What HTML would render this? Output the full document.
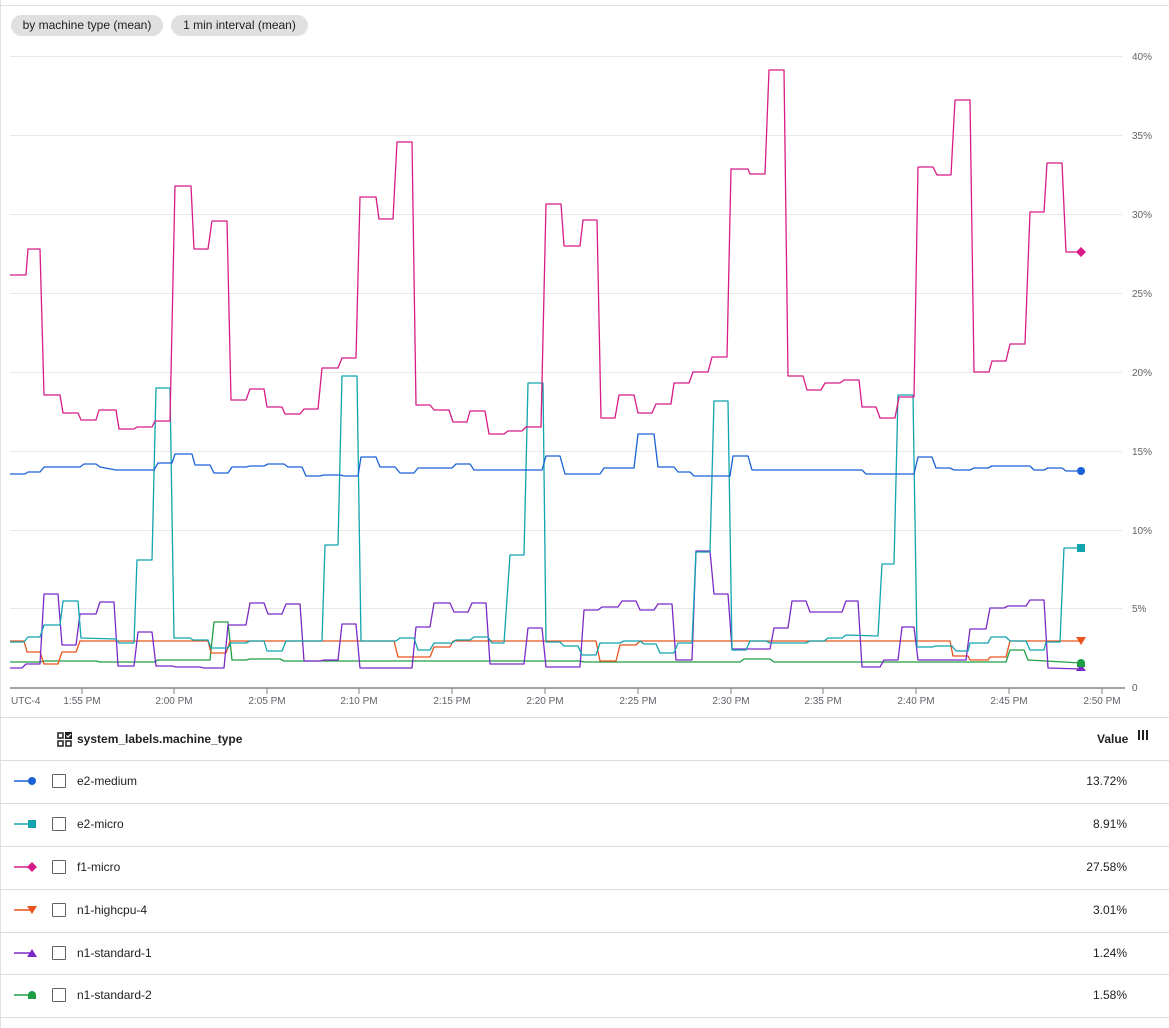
<!DOCTYPE html>
<html><head><meta charset="utf-8"><style>
body{margin:0;width:1169px;height:1028px;background:#fff;font-family:"Liberation Sans",Arial,sans-serif;position:relative;overflow:hidden;color:#202124}
.chip{position:absolute;top:15px;height:21px;line-height:21px;background:#e0e0e0;border-radius:11px;font-size:12px;color:#202124;text-align:center}
.row{position:absolute;left:0;width:1169px;height:42px;border-top:1px solid #dadce0;font-size:12px}
.row .nm{position:absolute;left:77px;top:13px}
.row .val{position:absolute;right:42px;top:13px}
.cb{position:absolute;left:52px;top:13px;width:12px;height:12px;border:1.5px solid #5f6368;border-radius:1px}
.ic{position:absolute;left:14px;top:10px}
</style></head><body>
<div style="position:absolute;left:0;top:5px;width:1169px;height:1px;background:#e0e0e0"></div>
<div style="position:absolute;left:0;top:0;width:1px;height:1028px;background:#e0e0e0"></div>
<div class="chip" style="left:11px;width:152px">by machine type (mean)</div>
<div class="chip" style="left:171px;width:137px">1 min interval (mean)</div>
<svg width="1169" height="718" style="position:absolute;left:0;top:0" font-family="Liberation Sans,Arial,sans-serif">
<g stroke="#e8e8e8" stroke-width="1">
<line x1="10" x2="1122" y1="56.5" y2="56.5"/><line x1="10" x2="1122" y1="135.5" y2="135.5"/><line x1="10" x2="1122" y1="214.5" y2="214.5"/><line x1="10" x2="1122" y1="293.5" y2="293.5"/><line x1="10" x2="1122" y1="372.5" y2="372.5"/><line x1="10" x2="1122" y1="451.5" y2="451.5"/><line x1="10" x2="1122" y1="530.5" y2="530.5"/><line x1="10" x2="1122" y1="608.5" y2="608.5"/>
</g>
<line x1="10" x2="1125" y1="688" y2="688" stroke="#80868b" stroke-width="1.5"/>
<g stroke="#80868b"><line x1="82" x2="82" y1="688" y2="694"/><line x1="174" x2="174" y1="688" y2="694"/><line x1="267" x2="267" y1="688" y2="694"/><line x1="359" x2="359" y1="688" y2="694"/><line x1="452" x2="452" y1="688" y2="694"/><line x1="545" x2="545" y1="688" y2="694"/><line x1="638" x2="638" y1="688" y2="694"/><line x1="731" x2="731" y1="688" y2="694"/><line x1="823" x2="823" y1="688" y2="694"/><line x1="916" x2="916" y1="688" y2="694"/><line x1="1009" x2="1009" y1="688" y2="694"/><line x1="1102" x2="1102" y1="688" y2="694"/></g>
<g font-size="10" fill="#5f6368">
<text x="1132" y="60">40%</text><text x="1132" y="139">35%</text><text x="1132" y="218">30%</text><text x="1132" y="297">25%</text><text x="1132" y="376">20%</text><text x="1132" y="455">15%</text><text x="1132" y="534">10%</text><text x="1132" y="612">5%</text><text x="1132" y="691">0</text>
<text x="11" y="704">UTC-4</text>
<g text-anchor="middle"><text x="82" y="704">1:55 PM</text><text x="174" y="704">2:00 PM</text><text x="267" y="704">2:05 PM</text><text x="359" y="704">2:10 PM</text><text x="452" y="704">2:15 PM</text><text x="545" y="704">2:20 PM</text><text x="638" y="704">2:25 PM</text><text x="731" y="704">2:30 PM</text><text x="823" y="704">2:35 PM</text><text x="916" y="704">2:40 PM</text><text x="1009" y="704">2:45 PM</text><text x="1102" y="704">2:50 PM</text></g>
</g>
<g fill="none" stroke-width="1.3" stroke-linejoin="round">
<polyline stroke="#1e9e45" points="10,662 40,662 44,661 96,661 100,662 154,662 158,660 210,660 214,622 228,622 232,660 246,660 250,659 280,659 284,661 580,661 584,662 740,662 744,659 770,659 774,662 1006,662 1010,650 1024,650 1028,660 1081,663"/>
<polyline stroke="#e8541e" points="10,641 24,641 27,652 40,652 44,664 58,664 62,652 76,652 80,641 208,641 211,653 226,653 230,641 394,641 398,657 430,657 434,647 450,647 453,641 596,641 600,661 616,661 620,645 636,645 640,641 950,641 953,656 968,656 970,660 988,660 990,657 1006,657 1010,641 1081,641"/>
<polyline stroke="#7b2ac9" points="10,668 22,668 26,664 40,664 44,594 58,594 62,645 76,645 80,614 96,614 100,602 114,602 118,666 134,666 138,632 152,632 156,666 172,666 176,667 200,667 204,668 224,668 228,625 246,625 250,603 264,603 268,614 282,614 286,604 300,604 304,661 320,661 324,660 338,660 342,624 356,624 360,668 412,668 416,627 430,627 434,603 450,603 454,612 468,612 472,603 486,603 490,664 524,664 528,628 542,628 546,667 580,667 584,610 598,610 602,607 618,607 622,601 636,601 640,610 654,610 658,604 672,604 676,660 692,660 696,551 710,551 714,594 728,594 732,649 770,649 774,628 788,628 792,601 806,601 810,612 842,612 846,601 858,601 862,667 880,667 884,660 898,660 902,627 914,627 918,660 966,660 970,629 986,629 990,608 1004,608 1008,606 1026,606 1030,600 1044,600 1048,668 1081,669"/>
<polyline stroke="#12a4af" points="10,642 24,642 28,637 40,637 44,625 60,625 63,601 78,601 81,638 116,639 119,643 134,643 137,560 152,560 156,388 170,388 174,638 190,638 193,640 208,640 211,648 228,648 231,643 246,643 250,641 264,641 267,651 282,651 286,641 322,641 325,545 338,545 342,376 357,376 361,641 396,641 400,638 414,638 418,650 430,650 434,643 452,643 456,640 470,640 474,637 488,637 492,643 504,643 510,555 524,555 528,383 543,383 546,642 560,642 564,646 578,646 582,655 596,655 600,643 620,643 624,641 640,641 644,644 656,644 660,653 674,653 678,643 692,643 696,552 710,552 714,401 728,401 732,650 746,650 750,641 766,641 770,643 806,643 810,641 824,641 828,638 842,638 846,635 878,636 882,564 894,564 898,395 913,395 917,647 932,647 936,646 952,646 956,651 968,651 970,643 988,643 991,637 1006,637 1010,641 1026,641 1030,650 1044,650 1046,642 1060,642 1064,548 1081,548"/>
<polyline stroke="#1a62d8" points="10,474 25,474 28,472 40,472 44,467 80,467 84,464 96,464 100,467 116,470 154,470 158,463 172,463 175,454 192,454 195,465 210,465 214,473 228,473 232,467 246,467 250,466 264,466 268,464 284,464 288,467 302,467 306,476 320,476 324,475 340,475 344,476 358,476 361,457 376,457 380,467 395,467 400,473 414,473 418,468 452,468 456,464 470,464 474,470 542,470 546,456 560,456 565,474 600,474 604,468 634,468 638,434 654,434 658,467 674,467 678,472 690,472 694,476 730,476 733,456 748,456 752,470 862,470 866,474 914,474 918,457 932,457 936,468 950,468 954,470 970,470 974,468 988,468 992,466 1030,466 1034,470 1044,470 1048,468 1062,468 1066,471 1081,471"/>
<polyline stroke="#d81b86" points="10,275 26,275 28,249 40,249 44,395 60,395 63,413 78,413 81,420 96,420 99,410 116,410 119,429 134,429 137,427 152,427 155,421 170,421 175,186 191,186 194,249 208,249 212,221 227,221 231,400 246,400 250,389 264,389 267,407 282,407 285,414 300,414 304,409 318,409 322,368 338,368 342,358 356,358 360,197 376,197 379,219 393,219 397,142 412,142 416,405 430,405 434,410 449,410 453,422 467,422 470,411 485,411 489,434 504,434 508,431 522,431 526,427 541,427 546,204 561,204 564,246 580,246 583,220 597,220 601,418 615,418 619,395 634,395 638,413 652,413 656,404 671,404 674,383 689,383 693,372 708,372 712,357 727,357 731,169 748,169 750,174 765,174 769,70 784,70 788,376 803,376 807,390 821,390 825,383 840,383 844,380 859,380 862,407 876,407 880,418 895,418 899,397 914,397 918,167 933,167 937,175 951,175 955,100 970,100 974,372 989,372 992,361 1006,361 1010,344 1025,344 1030,212 1044,212 1047,163 1062,163 1066,252 1081,252"/>
</g>
<circle cx="1081" cy="471" r="4" fill="#1a62d8"/>
<rect x="1077" y="544" width="8" height="8" fill="#12a4af"/>
<polygon points="1081,247 1086,252 1081,257 1076,252" fill="#d81b86"/>
<polygon points="1076,637 1086,637 1081,645" fill="#e8541e"/>
<polygon points="1076,671 1086,671 1081,664" fill="#7b2ac9"/>
<path d="M1077,667 v-4 a4,4 0 0 1 8,0 v4 z" fill="#1e9e45"/>
</svg>
<div style="position:absolute;left:0;top:717px;width:1169px;height:1px;background:#dadce0"></div>
<svg style="position:absolute;left:57px;top:732px" width="16" height="16"><g fill="none" stroke="#202124" stroke-width="1.5"><rect x="1" y="1" width="5" height="5"/><rect x="1" y="9" width="5" height="5"/><rect x="9" y="9" width="5" height="5"/></g><rect x="8" y="0" width="7" height="7" fill="#202124"/><path d="M9.5,3.5 l1.5,1.5 l3,-3" stroke="#fff" stroke-width="1.2" fill="none"/></svg>
<div style="position:absolute;left:77px;top:732px;font-size:12px;font-weight:bold">system_labels.machine_type</div>
<div style="position:absolute;left:1097px;top:732px;font-size:12px;font-weight:bold">Value</div>
<div style="position:absolute;left:1138px;top:730px;width:10px;height:10px;background:repeating-linear-gradient(90deg,#202124 0 2px,transparent 2px 4px)"></div>
<div class="row" style="top:760px"><svg class="ic" width="24" height="20"><line x1="0" y1="10" x2="18" y2="10" stroke="#1a62d8" stroke-width="1.5"/><circle cx="18" cy="10" r="4" fill="#1a62d8"/></svg><div class="cb"></div><div class="nm">e2-medium</div><div class="val">13.72%</div></div>
<div class="row" style="top:803px"><svg class="ic" width="24" height="20"><line x1="0" y1="10" x2="18" y2="10" stroke="#12a4af" stroke-width="1.5"/><rect x="14" y="6" width="8" height="8" fill="#12a4af"/></svg><div class="cb"></div><div class="nm">e2-micro</div><div class="val">8.91%</div></div>
<div class="row" style="top:846px"><svg class="ic" width="24" height="20"><line x1="0" y1="10" x2="18" y2="10" stroke="#d81b86" stroke-width="1.5"/><polygon points="18,5 23,10 18,15 13,10" fill="#d81b86"/></svg><div class="cb"></div><div class="nm">f1-micro</div><div class="val">27.58%</div></div>
<div class="row" style="top:889px"><svg class="ic" width="24" height="20"><line x1="0" y1="10" x2="18" y2="10" stroke="#e8541e" stroke-width="1.5"/><polygon points="13,6 23,6 18,14" fill="#e8541e"/></svg><div class="cb"></div><div class="nm">n1-highcpu-4</div><div class="val">3.01%</div></div>
<div class="row" style="top:932px"><svg class="ic" width="24" height="20"><line x1="0" y1="10" x2="18" y2="10" stroke="#7b2ac9" stroke-width="1.5"/><polygon points="13,14 23,14 18,6" fill="#7b2ac9"/></svg><div class="cb"></div><div class="nm">n1-standard-1</div><div class="val">1.24%</div></div>
<div class="row" style="top:974px"><svg class="ic" width="24" height="20"><line x1="0" y1="10" x2="18" y2="10" stroke="#1e9e45" stroke-width="1.5"/><path d="M14,14 v-4 a4,4 0 0 1 8,0 v4 z" fill="#1e9e45"/></svg><div class="cb"></div><div class="nm">n1-standard-2</div><div class="val">1.58%</div></div>
<div style="position:absolute;left:0;top:1017px;width:1169px;height:1px;background:#dadce0"></div>
</body></html>
